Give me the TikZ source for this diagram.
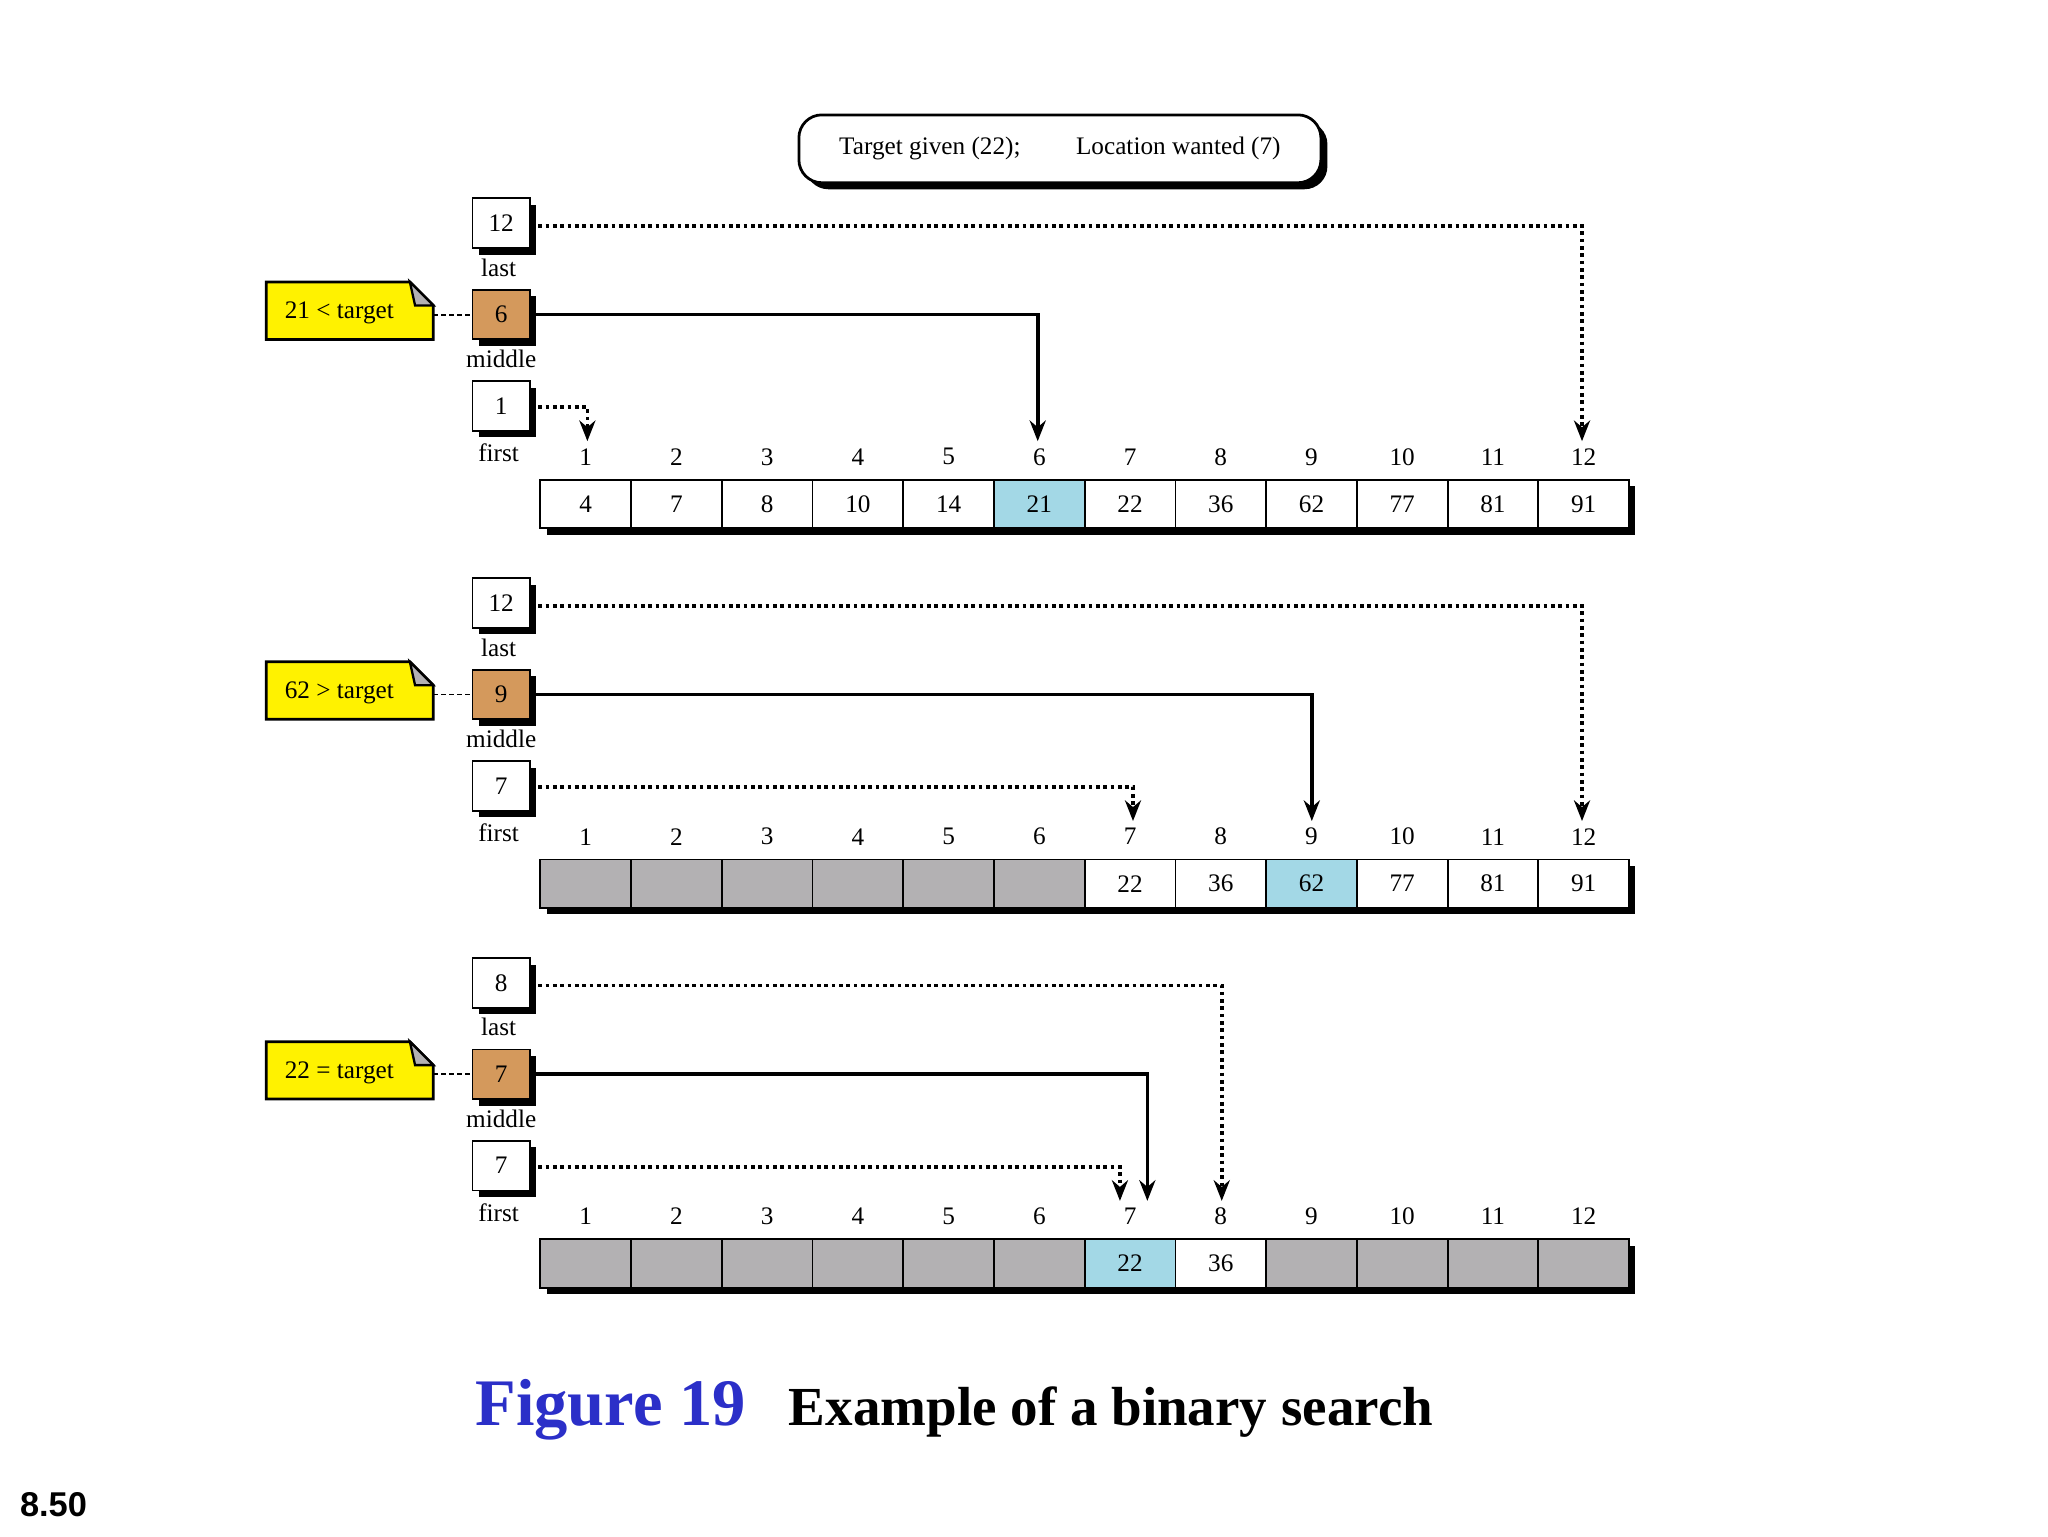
\documentclass[tikz,border=0pt]{standalone}
\usepackage{fontspec}
\setmainfont{Liberation Serif}
\newfontfamily\sansf{Liberation Sans}
\usetikzlibrary{shadows,arrows.meta,calc}
\definecolor{midc}{HTML}{D4995C}
\definecolor{hit}{HTML}{A3D8E6}
\definecolor{gone}{HTML}{B3B1B3}
\definecolor{figblue}{HTML}{2B2FC8}
\tikzset{
  shd/.style={drop shadow={shadow xshift=0.1cm,shadow yshift=-0.1cm,fill=black,opacity=1}},
  ptr/.style={draw,line width=0.8pt,fill=white,minimum width=0.88cm,minimum height=0.76cm,inner sep=0pt,shd,font=\fontsize{11}{12}\selectfont},
  cell/.style={draw,line width=0.8pt,minimum width=1.39cm,minimum height=0.74cm,inner sep=0pt,font=\fontsize{11}{12}\selectfont},
  lbl/.style={font=\fontsize{11}{12}\selectfont,inner sep=0pt},
  dot/.style={line width=1.6pt,dash pattern=on 1.6pt off 1.6pt},
  sol/.style={line width=1.6pt},
  tip/.style={-{Stealth[length=9pt,width=7pt]}}
}
\begin{document}
\begin{tikzpicture}[x=0.02cm,y=-0.02cm]
\useasboundingbox (0,0) rectangle (1569,1177);
\node[draw,line width=1.2pt,rounded corners=10pt,fill=white,shd,minimum width=8cm,minimum height=1.04cm,font=\fontsize{11}{12}\selectfont] (title) at (812,114) {Target given (22);\hspace{2.2em}Location wanted (7)};
\foreach \s/\L/\M/\F/\lt/\mt/\ft/\nt [count=\k] in {
   0/12/6/1/1212/795/450/{21 < target},
   291/12/9/7/1212/1005/868/{62 > target},
   582/8/7/7/936/879/858/{22 = target}}{
  \begin{scope}[yshift=-\s*0.02cm]
  \node[ptr] (last\k) at (384,171) {\L};
  \node[lbl] (lastl\k) at (382,205) {last};
  \node[ptr,fill=midc] (mid\k) at (384,241) {\M};
  \node[lbl] (midl\k) at (384,275) {middle};
  \node[ptr] (first\k) at (384,311) {\F};
  \node[lbl] (firstl\k) at (382,347) {first};
  \draw[line width=1.2pt,fill=yellow] (204,216) -- (314,216) -- (332,234) -- (332,260) -- (204,260) -- cycle;
  \draw[line width=1pt,fill=gone] (314,216) -- (332,234) -- (318,234) -- cycle;
  \node[font=\fontsize{11}{12}\selectfont,inner sep=0pt] (note\k) at (260,240) {\nt};
  \coordinate (ne\k) at (332,241);
  \draw[line width=0.8pt,dash pattern=on 2pt off 1.5pt] (ne\k) -- (mid\k.west);
  \node[draw,fill=white,line width=0.8pt,minimum width=16.68cm,minimum height=0.74cm,shd] (arr\k) at (831,386) {};
  \coordinate (lt\k) at (\lt,338);
  \coordinate (mt\k) at (\mt,338);
  \coordinate (ft\k) at (\ft,338);
  \draw[dot,tip] ($(last\k.east)+(0,2)$) -| (lt\k);
  \draw[sol,tip] (mid\k.east) -| (mt\k);
  \draw[dot,tip] ($(first\k.east)+(0,1)$) -| (ft\k);
  \foreach \i in {1,...,12}{
    \node[lbl] (ix\k-\i) at ({414+69.5*(\i-0.5)},350) {\i};
  }
  \end{scope}
}
\foreach \v [count=\i] in {4,7,8,10,14,21,22,36,62,77,81,91}{
  \node[cell,fill=white] (a\i) at ({414+69.5*(\i-0.5)},386) {\v};
}
\node[cell,fill=hit] at (a6) {21};
\foreach \v [count=\i] in {,,,,,,22,36,62,77,81,91}{
  \node[cell,fill=white] (b\i) at ({414+69.5*(\i-0.5)},677) {\v};
}
\foreach \i in {1,...,6}{\node[cell,fill=gone] at (b\i) {};}
\node[cell,fill=hit] at (b9) {62};
\foreach \i in {1,...,12}{
  \node[cell,fill=gone] (c\i) at ({414+69.5*(\i-0.5)},968) {};
}
\node[cell,fill=hit] at (c7) {22};
\node[cell,fill=white] at (c8) {36};
\node[anchor=base west,inner sep=0pt,font=\fontsize{29}{32}\selectfont\bfseries,text=figblue] (fig) at (364,1092) {Figure 19};
\node[anchor=base west,inner sep=0pt,font=\fontsize{24}{28}\selectfont\bfseries] (cap) at (604,1092) {Example of a binary search};
\node[anchor=base west,inner sep=0pt,font=\fontsize{15}{18}\selectfont\sansf\bfseries] (pg) at (15,1162) {8.50};
\end{tikzpicture}
\end{document}
